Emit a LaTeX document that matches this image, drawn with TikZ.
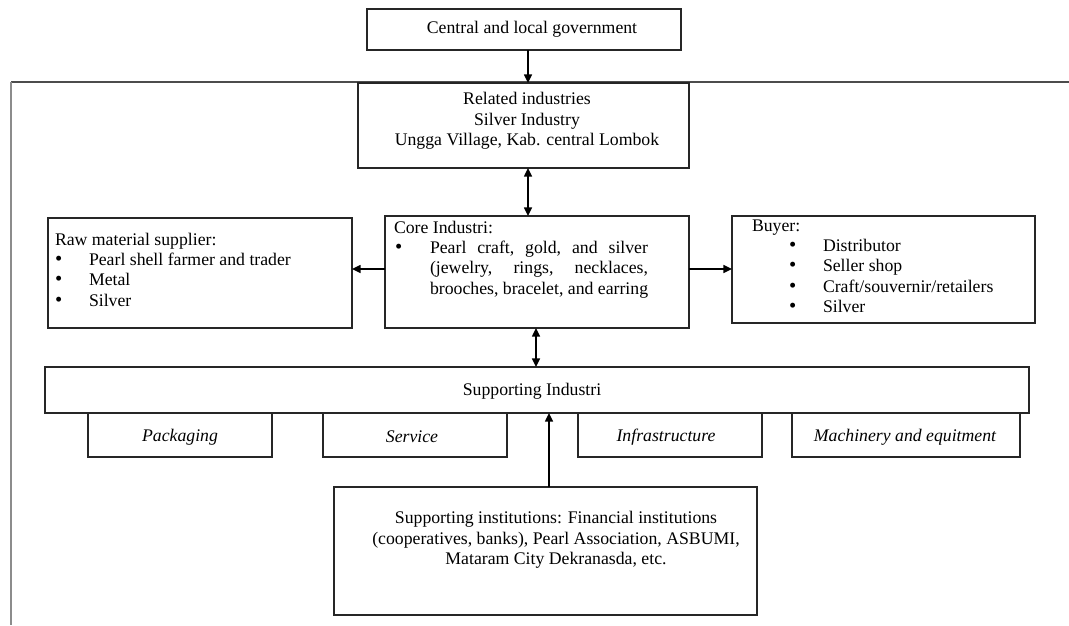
\documentclass[tikz,border=0pt]{standalone}
\usepackage{fontspec}
\setmainfont{Liberation Serif}
\usetikzlibrary{arrows.meta}
\newdimen\pxu \pxu=0.75pt
\newcommand{\blt}{{\fontsize{15.5}{15.5}\selectfont\textbullet}}
\begin{document}
\begin{tikzpicture}[x=0.75pt,y=-0.75pt,
  box/.style={draw=black!85, line width=1pt, inner sep=0pt, outer sep=0pt},
  txt/.style={inner sep=0pt, outer sep=0pt, font=\fontsize{13.3}{15.3}\selectfont},
  itxt/.style={txt, font=\fontsize{13.3}{15.3}\selectfont\itshape},
  tip/.tip={Triangle[length=6.5pt,width=6pt]},
  arr/.style={line width=1.1pt, draw=black, -tip},
  darr/.style={line width=1.1pt, draw=black, tip-tip},
  frametop/.style={line width=1.6pt, draw=black!70},
  frameleft/.style={line width=1.3pt, draw=black!45},
]
\useasboundingbox[fill=white] (0,0) rectangle (1069,625);

% cluster frame
\draw[frametop] (11,82) -- (1069,82);
\draw[frameleft] (11,82) -- (11,625);

% boxes
\node[box, minimum width=314\pxu, minimum height=41\pxu] (gov) at (524,29.5) {};
\node[box, minimum width=331\pxu, minimum height=85\pxu] (rel) at (523.5,125.5) {};
\node[box, minimum width=304\pxu, minimum height=110\pxu] (raw) at (200,273) {};
\node[box, minimum width=304\pxu, minimum height=112\pxu] (core) at (537,272) {};
\node[box, minimum width=303\pxu, minimum height=107\pxu] (buyer) at (883.5,269.5) {};
\node[box, minimum width=984\pxu, minimum height=46\pxu] (bar) at (537,390) {};
\node[box, minimum width=184\pxu, minimum height=44\pxu] (pack) at (180,435) {};
\node[box, minimum width=184\pxu, minimum height=44\pxu] (serv) at (415,435) {};
\node[box, minimum width=184\pxu, minimum height=44\pxu] (infra) at (670,435) {};
\node[box, minimum width=228\pxu, minimum height=44\pxu] (mach) at (906,435) {};
\node[box, minimum width=423\pxu, minimum height=128\pxu] (inst) at (545.5,551) {};

% texts
\node[txt] (govtext) at (532,29) {Central and local government};
\node[txt, align=center] (reltext) at (527,121)
  {Related industries\\Silver Industry\\Ungga Village, Kab. central Lombok};
\node[txt, anchor=base west] (rawtext) at (55,245) {\vtop{%
  \hbox{Raw material supplier:}%
  \hbox{\hbox to 34\pxu{\blt\hfil}Pearl shell farmer and trader}%
  \hbox{\hbox to 34\pxu{\blt\hfil}Metal}%
  \hbox{\hbox to 34\pxu{\blt\hfil}Silver}}};
\node[txt, anchor=base west] (coretext) at (394,233) {\vtop{%
  \hbox{Core Industri:}%
  \hbox{\hbox to 36\pxu{\hspace{1\pxu}\blt\hfil}\hbox to 218\pxu{Pearl\hfill craft,\hfill gold,\hfill and\hfill silver}}%
  \hbox{\hspace{36\pxu}\hbox to 218\pxu{(jewelry,\hfill rings,\hfill necklaces,}}%
  \hbox{\hspace{36\pxu}brooches, bracelet, and earring}}};
\node[txt, anchor=base west] (buyertext) at (752,231) {\vtop{%
  \hbox{Buyer:}%
  \hbox{\hspace{37\pxu}\hbox to 34\pxu{\blt\hfil}Distributor}%
  \hbox{\hspace{37\pxu}\hbox to 34\pxu{\blt\hfil}Seller shop}%
  \hbox{\hspace{37\pxu}\hbox to 34\pxu{\blt\hfil}Craft/souvernir/retailers}%
  \hbox{\hspace{37\pxu}\hbox to 34\pxu{\blt\hfil}Silver}}};
\node[txt] (bartext) at (532,391) {Supporting Industri};
\node[itxt] (packtext) at (180,437) {Packaging};
\node[itxt] (servtext) at (412,437) {Service};
\node[itxt] (infratext) at (666,437) {Infrastructure};
\node[itxt] (machtext) at (905,437) {Machinery and equitment};
\node[txt, align=center] (insttext) at (556,540)
  {Supporting institutions: Financial institutions\\(cooperatives, banks), Pearl Association, ASBUMI,\\Mataram City Dekranasda, etc.};

% connector guides
\coordinate (ax) at (528,0);
\coordinate (ay) at (0,269);
\coordinate (bx) at (536,0);
\coordinate (cx) at (549,0);

% connectors
\draw[arr] (gov.south -| ax) -- (rel.north -| ax);
\draw[darr] (rel.south -| ax) -- (core.north -| ax);
\draw[arr] (core.west |- ay) -- (raw.east |- ay);
\draw[arr] (core.east |- ay) -- (buyer.west |- ay);
\draw[darr] (core.south -| bx) -- (bar.north -| bx);
\draw[arr] (inst.north -| cx) -- (bar.south -| cx);
\end{tikzpicture}
\end{document}
